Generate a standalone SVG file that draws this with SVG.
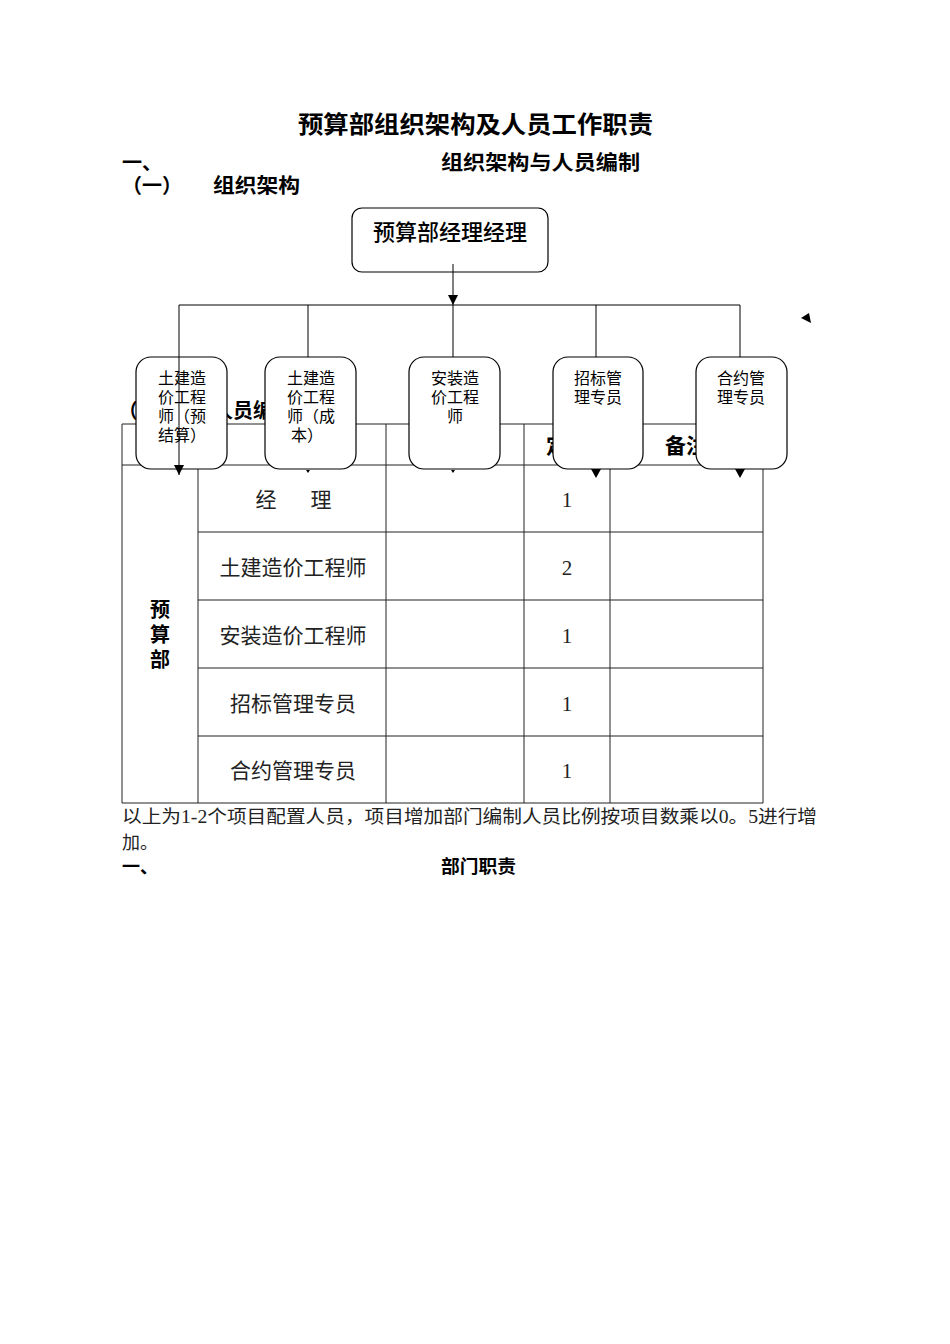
<svg xmlns="http://www.w3.org/2000/svg" width="950" height="1344" viewBox="0 0 950 1344">
<style>
.h{font-family:"Noto Sans CJK SC","Liberation Sans",sans-serif;font-weight:bold;fill:#000}
.b{font-family:"Noto Sans CJK SC","Liberation Sans",sans-serif;font-size:16px;fill:#000;text-anchor:middle}
.t{font-family:"Liberation Serif","Noto Sans CJK SC",serif;font-size:21px;fill:#222;text-anchor:middle}
.box{fill:#fff;stroke:#000;stroke-width:1.2}
.grid{stroke:#222;stroke-width:1;fill:none}
.c{stroke:#000;stroke-width:1;fill:none}
</style>
<defs>
<marker id="arr" markerWidth="10" markerHeight="10" refX="10" refY="5" orient="auto" markerUnits="userSpaceOnUse" viewBox="0 0 10 10">
<path d="M0,0 L10,5 L0,10 Z" fill="#000"/>
</marker>
<clipPath id="clipHead"><rect x="227" y="395" width="38" height="28"/></clipPath>
</defs>
<rect width="950" height="1344" fill="#fff"/>

<g id="headings">
<text class="h" x="298" y="133" font-size="24" textLength="355" lengthAdjust="spacingAndGlyphs">预算部组织架构及人员工作职责</text>
<text class="h" x="122" y="170" font-size="20">一、</text>
<text class="h" x="441" y="170" font-size="20" textLength="199" lengthAdjust="spacingAndGlyphs">组织架构与人员编制</text>
<text class="h" x="122" y="193" font-size="20">（一）</text>
<text class="h" x="213" y="193" font-size="20" textLength="87" lengthAdjust="spacingAndGlyphs">组织架构</text>
<text class="h" x="118" y="418" font-size="20">（</text>
<text class="h" x="213" y="418" font-size="20" clip-path="url(#clipHead)">人员编</text>
</g>

<g id="table">
<path class="grid" d="M122,424 H763 M122,465 H763 M198,532 H763 M198,600 H763 M198,668 H763 M198,736 H763 M122,803 H763 M122,424 V803 M198,424 V803 M386,424 V803 M524,424 V803 M610,424 V803 M763,424 V803"/>
<text class="h" x="567" y="453" font-size="21" text-anchor="middle">定员</text>
<text class="h" x="686" y="453" font-size="21" text-anchor="middle">备注</text>
<text class="h" x="160" y="617" font-size="20" text-anchor="middle"><tspan x="160" y="617">预</tspan><tspan x="160" y="642">算</tspan><tspan x="160" y="667">部</tspan></text>
<text class="t" x="266" y="507">经</text>
<text class="t" x="321" y="507">理</text>
<text class="t" x="293" y="575">土建造价工程师</text>
<text class="t" x="293" y="643">安装造价工程师</text>
<text class="t" x="293" y="711">招标管理专员</text>
<text class="t" x="293" y="778">合约管理专员</text>
<text class="t" x="567" y="507">1</text>
<text class="t" x="567" y="575">2</text>
<text class="t" x="567" y="643">1</text>
<text class="t" x="567" y="711">1</text>
<text class="t" x="567" y="778">1</text>
</g>

<g id="notes">
<text x="122" y="823" font-family="Liberation Serif,Noto Sans CJK SC,serif" font-size="18" fill="#222" textLength="695" lengthAdjust="spacingAndGlyphs">以上为1-2个项目配置人员，项目增加部门编制人员比例按项目数乘以0。5进行增</text>
<text x="122" y="849" font-family="Liberation Serif,Noto Sans CJK SC,serif" font-size="18" fill="#222">加。</text>
<text class="h" x="122" y="873" font-size="18">一、</text>
<text class="h" x="441" y="873" font-size="18" textLength="75" lengthAdjust="spacingAndGlyphs">部门职责</text>
</g>

<g id="node-manager">
<rect class="box" x="352" y="208" width="196" height="64" rx="10"/>
<text x="450" y="240" font-family="Noto Sans CJK SC,Liberation Sans,sans-serif" font-size="22" font-weight="500" text-anchor="middle">预算部经理经理</text>
</g>
<g id="node-civil-settle">
<rect class="box" x="136" y="357" width="91" height="112" rx="15"/>
<text class="b"><tspan x="182" y="384">土建造</tspan><tspan x="182" y="403">价工程</tspan><tspan x="182" y="422">师（预</tspan><tspan x="182" y="441">结算）</tspan></text>
</g>
<g id="node-civil-cost">
<rect class="box" x="265" y="357" width="91" height="112" rx="15"/>
<text class="b"><tspan x="311" y="384">土建造</tspan><tspan x="311" y="403">价工程</tspan><tspan x="311" y="422">师（成</tspan><tspan x="307" y="441">本）</tspan></text>
</g>
<g id="node-install">
<rect class="box" x="409" y="357" width="91" height="112" rx="15"/>
<text class="b"><tspan x="455" y="384">安装造</tspan><tspan x="455" y="403">价工程</tspan><tspan x="455" y="422">师</tspan></text>
</g>
<g id="node-bid">
<rect class="box" x="553" y="357" width="90" height="112" rx="15"/>
<text class="b"><tspan x="598" y="384">招标管</tspan><tspan x="598" y="403">理专员</tspan></text>
</g>
<g id="node-contract">
<rect class="box" x="696" y="357" width="91" height="112" rx="15"/>
<text class="b"><tspan x="741" y="384">合约管</tspan><tspan x="741" y="403">理专员</tspan></text>
</g>

<g id="connectors">
<line class="c" x1="453" y1="264" x2="453" y2="305" marker-end="url(#arr)"/>
<line class="c" x1="179" y1="305" x2="740" y2="305"/>
<line class="c" x1="179" y1="305" x2="179" y2="475" marker-end="url(#arr)"/>
<line class="c" x1="308" y1="305" x2="308" y2="357"/>
<line class="c" x1="453" y1="305" x2="453" y2="357"/>
<line class="c" x1="596" y1="305" x2="596" y2="357"/>
<line class="c" x1="740" y1="305" x2="740" y2="357"/>
<polygon points="306,470 310,470 308,473" fill="#000"/>
<polygon points="451,470 455,470 453,473" fill="#000"/>
<polygon points="591,469 601,469 596,478" fill="#000"/>
<polygon points="735,469 745,469 740,478" fill="#000"/>
<polygon points="801,318 809,313 811,323" fill="#000"/>
</g>
</svg>
